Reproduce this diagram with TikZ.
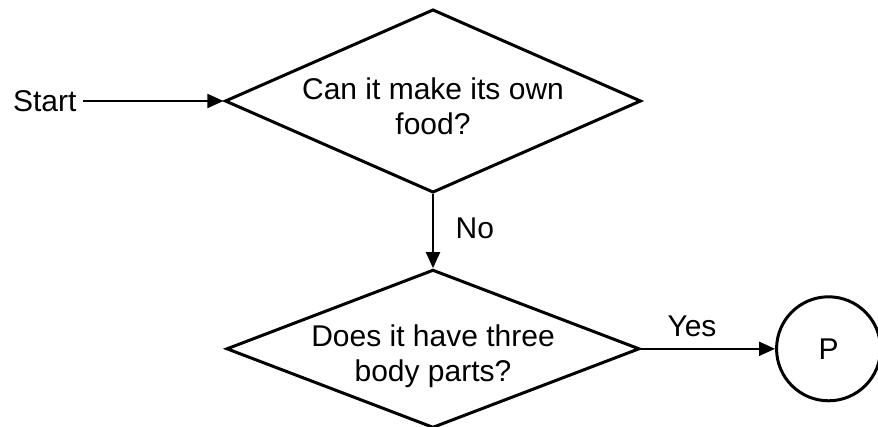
\documentclass[tikz,border=0pt]{standalone}
\usepackage{fontspec}
\setmainfont{Liberation Sans}
\usetikzlibrary{arrows.meta,positioning,shapes.geometric}

\begin{document}
\begin{tikzpicture}[
  font=\fontsize{15}{17.5}\selectfont,
  decision/.style={draw, diamond, align=center, line width=1.5pt, inner sep=0pt},
  endpoint/.style={draw, circle, minimum size=52pt, inner sep=0pt, line width=1.5pt},
  line/.style={-{Triangle[length=8pt, width=7pt]}, line width=1pt}
]
\useasboundingbox (0,0) rectangle (439pt,-213.5pt);

\node[decision, aspect=2.27, minimum width=207.5pt, minimum height=91.5pt, text height=34pt, text depth=-2pt] (food) at (216.5pt,-50.5pt) {Can it make its own\\food?};
\node[decision, aspect=2.61, minimum width=205pt, minimum height=78.5pt, text height=32.5pt, text depth=-2.5pt, below=37pt of food] (parts) {Does it have three\\body parts?};
\node[endpoint, right=67pt of parts] (P) {P};
\node[left=69pt of food, xshift=-1pt] (start) {Start};

\draw[line] (start) -- (food);
\draw[line] (food) -- node[right, xshift=7.5pt, yshift=1.5pt] {No} (parts);
\draw[line] (parts) -- node[above, pos=0.38, yshift=2pt] {Yes} (P);
\end{tikzpicture}
\end{document}
